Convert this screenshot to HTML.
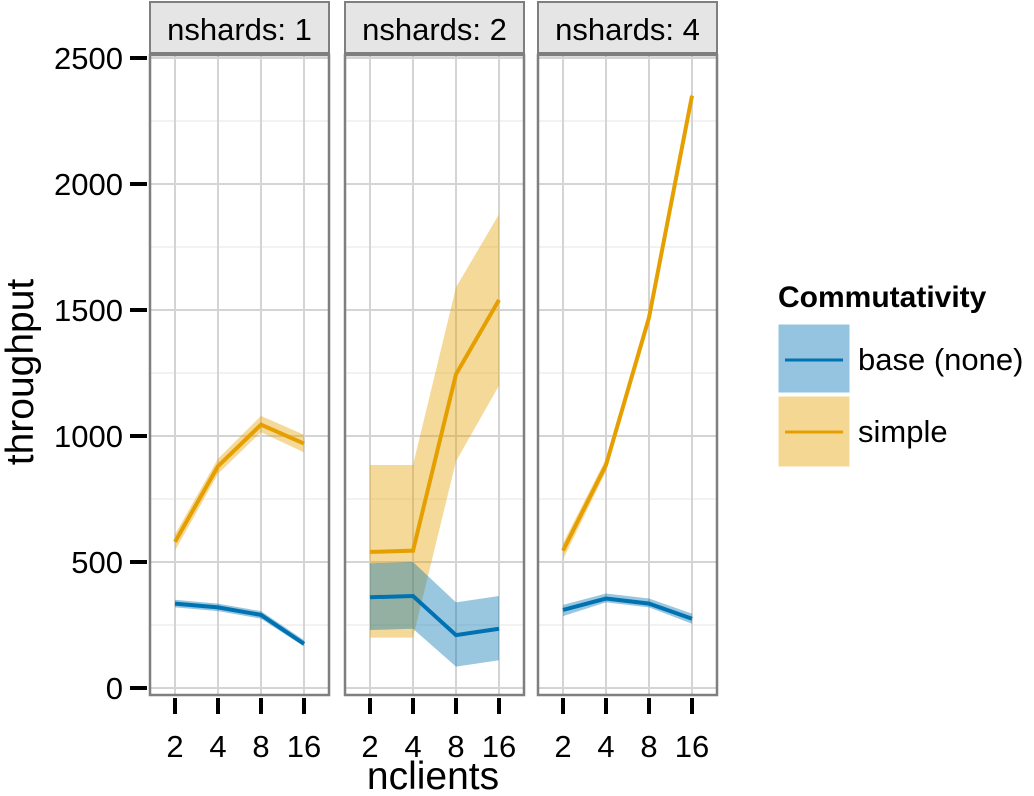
<!DOCTYPE html>
<html><head><meta charset="utf-8"><style>body{margin:0;background:#fff}svg{display:block;font-family:"Liberation Sans",Arial,sans-serif}</style></head>
<body>
<svg id="chart" width="1034" height="796" viewBox="0 0 1034 796">
<g id="panels"></g>
<g id="yaxis"></g>
<text x="433" y="789" font-size="39" text-anchor="middle">nclients</text>
<text transform="translate(33,372) rotate(-90)" font-size="39" text-anchor="middle">throughput</text>
<g>
<text x="778" y="307" font-size="30" font-weight="bold">Commutativity</text>
<g>
<rect x="778" y="324" width="72" height="69" fill="#0072B2" fill-opacity="0.42" stroke="#fff"/>
<line x1="785" x2="843" y1="360" y2="360" stroke="#0072B2" stroke-width="3"/>
<text x="858" y="370" font-size="31">base (none)</text></g>
<g>
<rect x="778" y="396" width="72" height="71" fill="#E69F00" fill-opacity="0.42" stroke="#fff"/>
<line x1="785" x2="843" y1="432" y2="432" stroke="#E69F00" stroke-width="3"/>
<text x="858" y="442" font-size="31">simple</text></g>
</g>
</svg>
<script>
const categories = ["2","4","8","16"];
const panelLabels = ["nshards: 1","nshards: 2","nshards: 4"];
const baseMean = [[335,320,290,175],[360,365,210,235],[310,355,335,275]];
const baseLow = [[320,305,275,165],[230,235,85,110],[285,340,320,255]];
const baseHigh = [[350,335,305,190],[495,500,340,365],[330,375,355,295]];
const simpleMean = [[580,880,1045,970],[540,545,1245,1540],[545,885,1470,2350]];
const simpleLow = [[545,850,1015,935],[200,200,900,1200],[510,860,1440,2330]];
const simpleHigh = [[610,910,1080,1005],[885,885,1590,1880],[575,910,1495,2370]];
const yTicks = [0,500,1000,1500,2000,2500];
const NS="http://www.w3.org/2000/svg";
const panelX=[150,345,538], pw=179, pTop=55, pBot=695;
const yS=v=>688-v*(630/2500);
const xS=(p,i)=>panelX[p]+25+i*43;
function mk(t,a,parent){const e=document.createElementNS(NS,t);for(const k in a)e.setAttribute(k,a[k]);parent.appendChild(e);return e;}
const pg=document.getElementById('panels');
const colors={base:"#0072B2",simple:"#E69F00"};
function band(p,lo,hi){let d="M"+categories.map((c,i)=>xS(p,i)+","+yS(hi[p][i])).join("L");
 for(let i=categories.length-1;i>=0;i--)d+="L"+xS(p,i)+","+yS(lo[p][i]);return d+"Z";}
function line(p,m){return "M"+categories.map((c,i)=>xS(p,i)+","+yS(m[p][i])).join("L");}
panelLabels.forEach((lab,p)=>{
 const g=mk('g',{},pg);
 
 
 const x0=panelX[p];
 mk('rect',{x:x0,y:2,width:pw,height:51,fill:"#e5e5e5",stroke:"#7f7f7f","stroke-width":2},g);
 const st=mk('text',{x:x0+pw/2,y:40,"font-size":31,"text-anchor":"middle"},g);st.textContent=lab;
 
 
 for(let v=250;v<2600;v+=500){mk('line',{x1:x0,x2:x0+pw,y1:yS(v),y2:yS(v),stroke:"#ebebeb","stroke-width":1.2},g);}
 yTicks.forEach(v=>mk('line',{x1:x0,x2:x0+pw,y1:yS(v),y2:yS(v),stroke:"#d4d4d4","stroke-width":2},g));
 categories.forEach((c,i)=>{mk('line',{x1:xS(p,i),x2:xS(p,i),y1:pTop,y2:pBot,stroke:"#d4d4d4","stroke-width":2},g);
  mk('line',{x1:xS(p,i),x2:xS(p,i),y1:698,y2:714,stroke:"#000","stroke-width":4},g);
  const t=mk('text',{x:xS(p,i),y:757,"font-size":31,"text-anchor":"middle"},g);t.textContent=c;
  
  });
 const b1=mk('path',{d:band(p,simpleLow,simpleHigh),fill:colors.simple,"fill-opacity":0.4},g);
 
 
 const b2=mk('path',{d:band(p,baseLow,baseHigh),fill:colors.base,"fill-opacity":0.4},g);
 
 
 const l1=mk('path',{d:line(p,simpleMean),fill:"none",stroke:colors.simple,"stroke-width":4},g);
 
 
 const l2=mk('path',{d:line(p,baseMean),fill:"none",stroke:colors.base,"stroke-width":4},g);
 
 
 mk('rect',{x:x0,y:pTop,width:pw,height:pBot-pTop,fill:"none",stroke:"#7f7f7f","stroke-width":2.5},g);
});
const ya=document.getElementById('yaxis');
yTicks.forEach(v=>{mk('line',{x1:130,x2:147,y1:yS(v),y2:yS(v),stroke:"#000","stroke-width":4},ya);
 const t=mk('text',{x:123,y:yS(v)+11,"font-size":31,"text-anchor":"end"},ya);t.textContent=v;
 
 });
</script>
</body></html>
